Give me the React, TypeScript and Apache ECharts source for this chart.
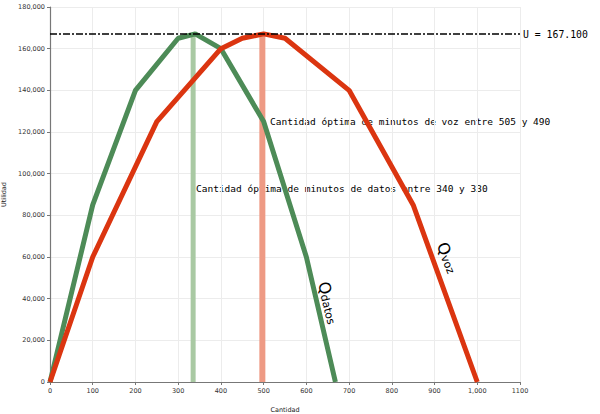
import React, { useEffect, useRef } from "react";
import * as echarts from "echarts";

const datosX = [0, 100, 200, 300, 340, 400, 500, 600, 668];
const datosY = [0, 85000, 140000, 165000, 167100, 160000, 125000, 60000, 0];
const vozX = [0, 100, 250, 400, 450, 500, 550, 700, 850, 1000];
const vozY = [0, 60000, 125000, 160000, 165000, 167100, 165000, 140000, 85000, 0];
const optDatos = 335;
const optVoz = 497;
const uMax = 167100;
const xTicks = ["0", "100", "200", "300", "400", "500", "600", "700", "800", "900", "1,000", "1100"];
const labelU = "U = 167.100";
const labelVoz = "Cantidad óptima de minutos de voz entre 505 y 490";
const labelDatos = "Cantidad óptima de minutos de datos entre 340 y 330";

export default function App() {
  const ref = useRef<HTMLDivElement>(null);
  useEffect(() => {
    const chart = echarts.init(ref.current!, null, { renderer: "svg" });
    const tickFont = { fontFamily: "DejaVu Sans", fontSize: 6.5, color: "#333" };
    chart.setOption({
      animation: false,
      grid: { left: 50, right: 80, top: 7, bottom: 32, containLabel: false, outerBoundsMode: "none" },
      xAxis: {
        type: "value",
        min: 0,
        max: 1100,
        interval: 100,
        name: "Cantidad",
        nameLocation: "middle",
        nameGap: 24,
        nameTextStyle: { fontFamily: "DejaVu Sans", fontSize: 6.5, color: "#222" },
        axisLine: { lineStyle: { color: "#777", width: 1.2 } },
        axisTick: { show: true, length: 3, lineStyle: { color: "#777" } },
        axisLabel: { ...tickFont, margin: 5, formatter: (v: number) => xTicks[Math.round(v / 100)] },
        splitLine: { show: true, lineStyle: { color: "#ececec" } },
      },
      yAxis: {
        type: "value",
        min: 0,
        max: 180000,
        interval: 20000,
        name: "Utilidad",
        nameLocation: "middle",
        nameGap: 40,
        nameTextStyle: { fontFamily: "DejaVu Sans", fontSize: 6.5, color: "#222" },
        axisLine: { show: true, lineStyle: { color: "#777", width: 1.2 } },
        axisTick: { show: true, length: 3, lineStyle: { color: "#777" } },
        axisLabel: { ...tickFont, margin: 5, formatter: (v: number) => v.toLocaleString("en-US") },
        splitLine: { show: true, lineStyle: { color: "#ececec" } },
      },
      series: [
        {
          type: "line",
          data: [[optDatos, 0], [optDatos, uMax]],
          symbol: "none",
          lineStyle: { color: "#a9c9a3", width: 5 },
          z: 2,
        },
        {
          type: "line",
          data: [[optVoz, 0], [optVoz, uMax]],
          symbol: "none",
          lineStyle: { color: "#ee9a84", width: 6 },
          z: 2,
        },
        {
          type: "line",
          data: datosX.map((x, i) => [x, datosY[i]]),
          symbol: "none",
          lineStyle: { color: "#4d8b57", width: 5 },
          z: 3,
        },
        {
          type: "line",
          data: vozX.map((x, i) => [x, vozY[i]]),
          symbol: "none",
          lineStyle: { color: "#db3510", width: 5 },
          z: 3,
        },
        {
          type: "line",
          data: [[0, uMax], [1100, uMax]],
          symbol: "none",
          lineStyle: { color: "#000", width: 1.5, type: [7, 2, 2, 2] },
          z: 4,
        },
      ],
      graphic: [
        {
          type: "text",
          x: 523,
          y: 34,
          z: 10,
          style: { text: labelU, fontFamily: "DejaVu Sans Mono", fontSize: 9.8, fill: "#000", verticalAlign: "middle" },
        },
        {
          type: "text",
          x: 270,
          y: 121,
          z: 0,
          style: { text: labelVoz, fontFamily: "DejaVu Sans Mono", fontSize: 9.5, fill: "#000", verticalAlign: "middle" },
        },
        {
          type: "text",
          x: 196,
          y: 188,
          z: 0,
          style: { text: labelDatos, fontFamily: "DejaVu Sans Mono", fontSize: 9.5, fill: "#000", verticalAlign: "middle" },
        },
        {
          type: "text",
          x: 331,
          y: 280,
          rotation: (-76 * Math.PI) / 180,
          z: 10,
          style: {
            text: "{q|Q}{s|datos}",
            rich: {
              q: { fontFamily: "DejaVu Sans", fontSize: 16, fill: "#000" },
              s: { fontFamily: "DejaVu Sans", fontSize: 11, fill: "#000", padding: [5, 0, 0, 0] },
            },
          },
        },
        {
          type: "text",
          x: 449,
          y: 240,
          rotation: (-68 * Math.PI) / 180,
          z: 10,
          style: {
            text: "{q|Q}{s|voz}",
            rich: {
              q: { fontFamily: "DejaVu Sans", fontSize: 16, fill: "#000" },
              s: { fontFamily: "DejaVu Sans", fontSize: 11, fill: "#000", padding: [5, 0, 0, 0] },
            },
          },
        },
      ],
    });
    return () => chart.dispose();
  }, []);
  return <div ref={ref} style={{ width: 600, height: 414, position: "absolute", left: 0, top: 0 }} />;
}
